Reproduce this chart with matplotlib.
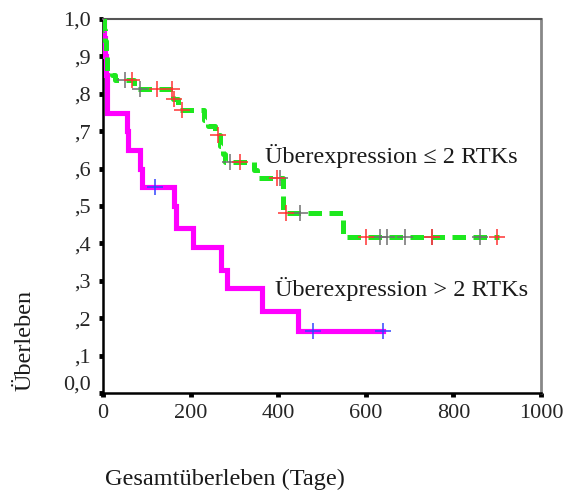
import numpy as np
import matplotlib
matplotlib.use("Agg")
import matplotlib.pyplot as plt
import matplotlib.transforms as mtransforms

plt.rcParams['font.family'] = ['Liberation Serif', 'DejaVu Serif']

# Group <= 2 RTKs (green, dashed)
g_t = [0, 2, 4, 6, 8, 10, 20, 27, 70, 160, 172, 230, 240, 255, 268, 273, 278, 345, 352, 412, 548, 905]
g_s = [1.0, 0.97, 0.94, 0.91, 0.88, 0.86, 0.85, 0.837, 0.813, 0.787, 0.757, 0.73, 0.715, 0.69, 0.66,
       0.64, 0.617, 0.595, 0.575, 0.48, 0.417, 0.417]
g_cens_red = [66, 123, 157, 162, 180, 263, 313, 397, 418, 600, 751, 899]
g_cens_gray = [50, 84, 290, 404, 450, 632, 648, 689, 751, 861]

# Group > 2 RTKs (magenta, solid)
m_t = [0, 2, 4, 6, 8, 10, 55, 58, 85, 89, 163, 167, 205, 270, 283, 363, 445, 639]
m_s = [1.0, 0.95, 0.90, 0.85, 0.80, 0.75, 0.70, 0.65, 0.60, 0.55, 0.50, 0.44, 0.39, 0.33, 0.28,
       0.22, 0.165, 0.165]
m_cens = [119, 479, 639]

x_ticks = [0, 200, 400, 600, 800, 1000]
y_ticks = [0.0, 0.1, 0.2, 0.3, 0.4, 0.5, 0.6, 0.7, 0.8, 0.9, 1.0]
y_labels = ['0,0', ',1', ',2', ',3', ',4', ',5', ',6', ',7', ',8', ',9', '1,0']

label_le = 'Überexpression ≤ 2 RTKs'
label_gt = 'Überexpression > 2 RTKs'


def surv_at(times, survs, t):
    idx = np.searchsorted(np.array(times), np.array(t), side='right') - 1
    return np.array(survs)[idx]


fig = plt.figure(figsize=(5.63, 4.91), dpi=100)
ax = fig.add_axes([0.183, 0.1996, 0.778, 0.7617])

ax.step(m_t, m_s, where='post', color='#ff00ff', lw=3.7, zorder=3, solid_joinstyle='miter')
ax.step(g_t, g_s, where='post', color='#1ee81e', lw=3.6, zorder=4,
        linestyle=(0, (2.7, 1.5)))

ax.plot(m_cens, surv_at(m_t, m_s, m_cens), linestyle='none', marker='+', color='#3344ff',
        markersize=11, mew=1.1, zorder=6)
ax.plot(g_cens_gray, surv_at(g_t, g_s, g_cens_gray), linestyle='none', marker='+', color='#707070',
        markersize=11, mew=1.1, zorder=6)
ax.plot(g_cens_red, surv_at(g_t, g_s, g_cens_red), linestyle='none', marker='+', color='#ff3333',
        markersize=11, mew=1.1, zorder=6)

ax.text(370, 0.634, label_le, fontsize=17.5, va='center', ha='left', color='#1a1a1a', zorder=7)
ax.text(393, 0.278, label_gt, fontsize=17.5, va='center', ha='left', color='#1a1a1a', zorder=7)

ax.set_xlim(0, 1000)
ax.set_ylim(0, 1.0)
ax.set_xticks(x_ticks)
ax.set_xticklabels([str(v) for v in x_ticks], fontsize=16, color='#262626')
ax.set_yticks(y_ticks)
ax.set_yticklabels(y_labels, fontsize=16, color='#262626')
ax.tick_params(axis='both', direction='out', length=3, width=3.5, color='black')
ax.tick_params(axis='y', pad=6)
ax.tick_params(axis='x', pad=5)

# shift the 0,0 label up slightly
offset = mtransforms.ScaledTranslation(0, 10 / 100, fig.dpi_scale_trans)
lab0 = ax.get_yticklabels()[0]
lab0.set_transform(lab0.get_transform() + offset)

ax.spines['left'].set_color('black')
ax.spines['left'].set_linewidth(1.8)
ax.spines['bottom'].set_color('black')
ax.spines['bottom'].set_linewidth(1.8)
ax.spines['top'].set_color('#555555')
ax.spines['top'].set_linewidth(1.5)
ax.spines['right'].set_color('#888888')
ax.spines['right'].set_linewidth(2.0)

ax.set_xlabel('Gesamtüberleben (Tage)', fontsize=17.5, color='#1a1a1a')
ax.xaxis.set_label_coords(0.279, -0.203)
ax.set_ylabel('Überleben', fontsize=17.5, color='#1a1a1a')
ax.yaxis.set_label_coords(-0.153, 0.14)

fig.savefig('out.png', dpi=100)
